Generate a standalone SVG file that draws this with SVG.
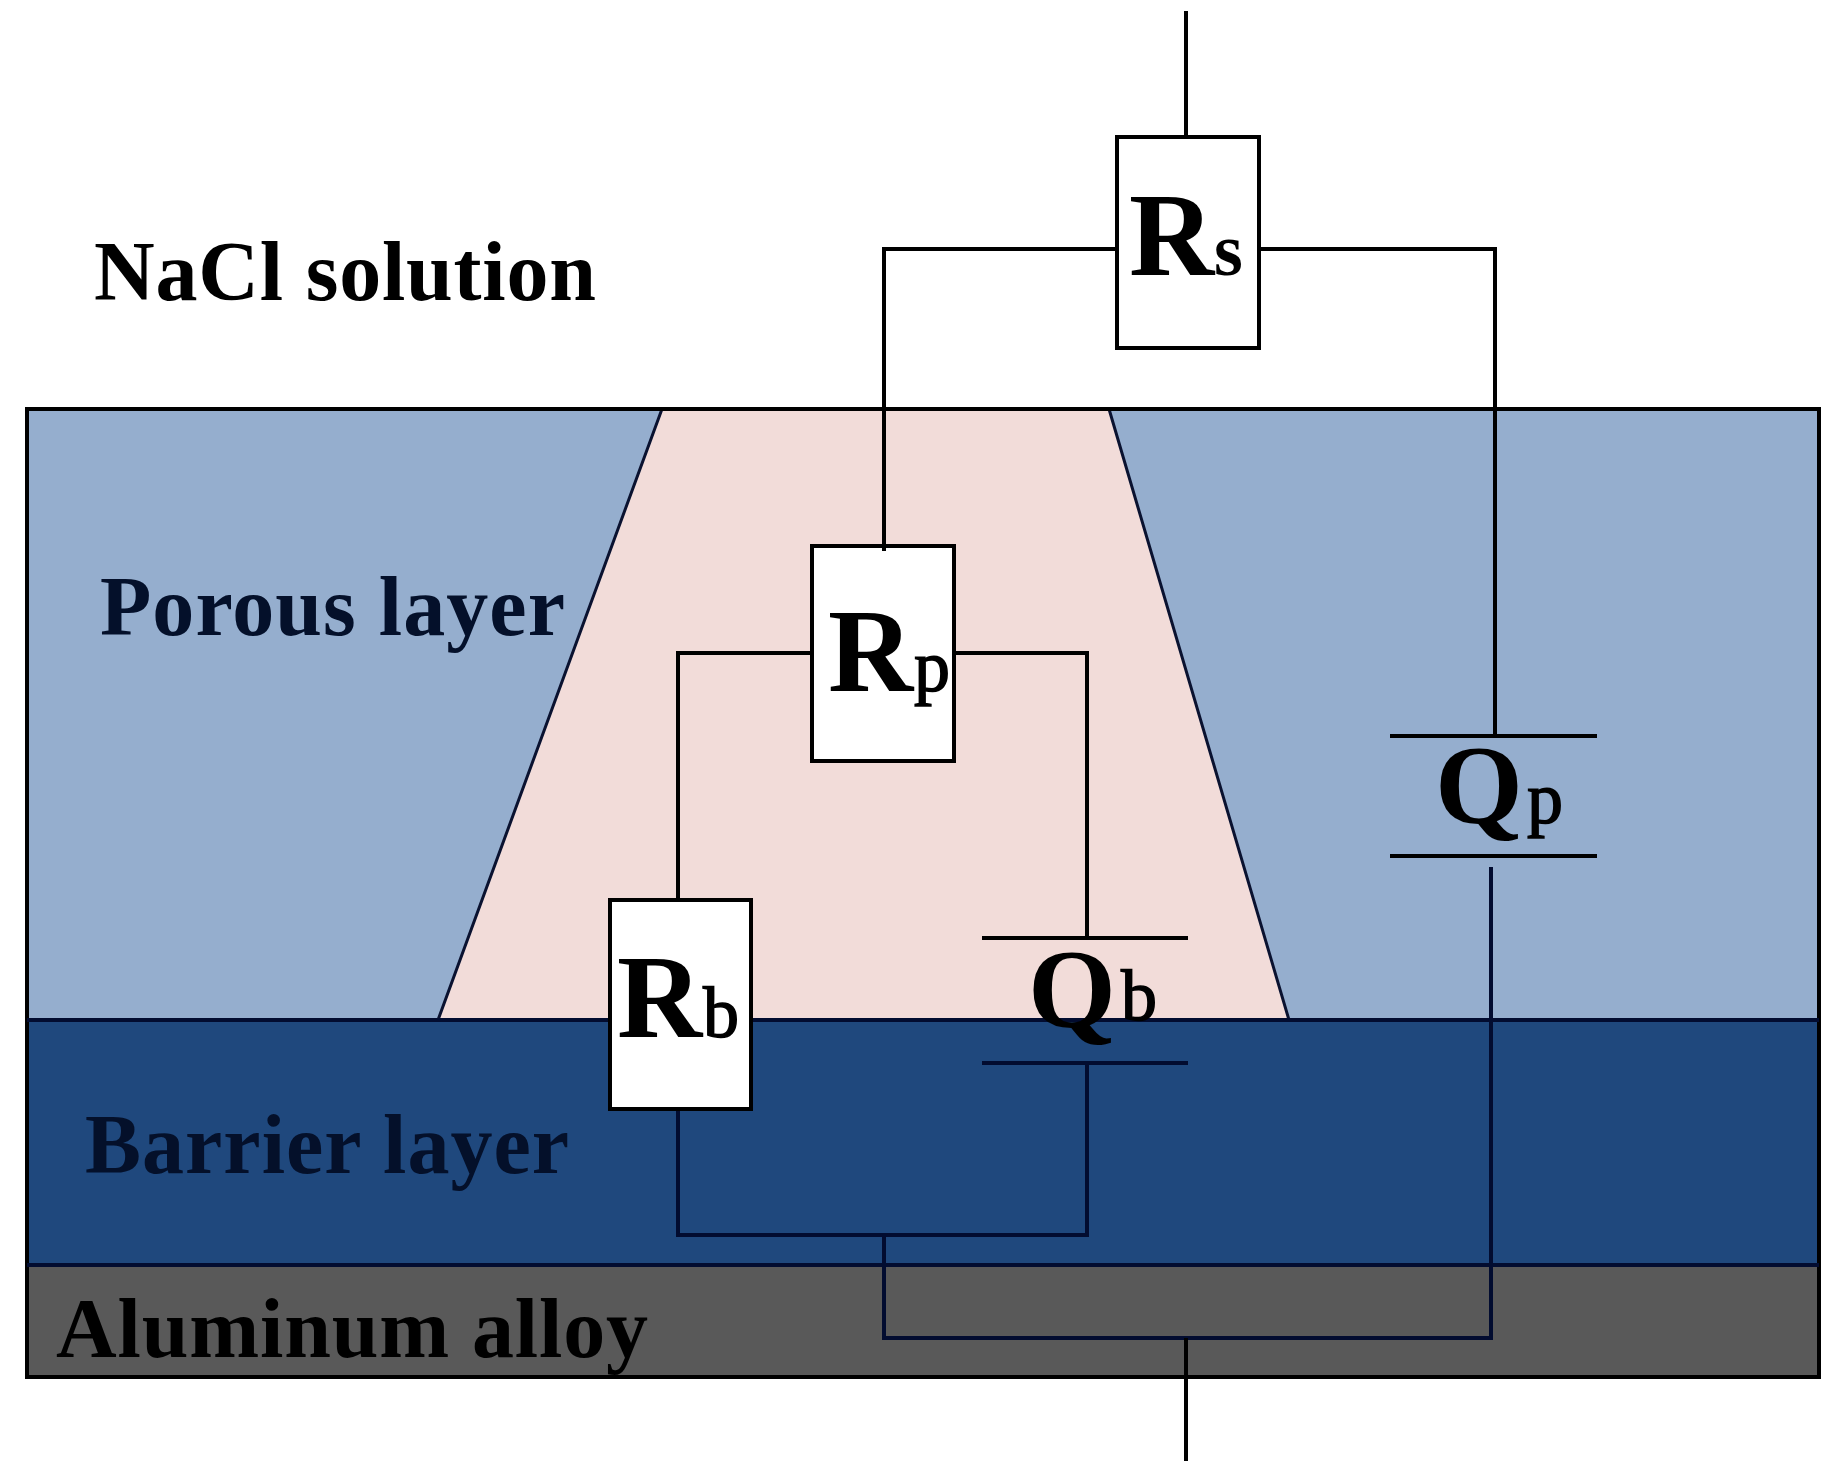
<svg xmlns="http://www.w3.org/2000/svg" width="1844" height="1481" viewBox="0 0 1844 1481">
<style>
text{font-family:"Liberation Serif","Times New Roman",serif;font-weight:bold;fill:#000}
.lab{font-size:84px}
.navy{fill:#04102a}
.main{font-size:118px}
.q{font-size:113px}
.sub{font-size:72px;font-weight:normal;stroke:#000;stroke-width:1.5}
.subs{font-size:74px}
.box{fill:#fff;stroke:#000;stroke-width:4}
.w{fill:none;stroke:#000;stroke-width:4}
.n{fill:none;stroke:#020c30;stroke-width:4}
.edge{fill:none;stroke:#0a1230;stroke-width:3}
</style>
<rect width="1844" height="1481" fill="#fff"/>
<g id="layers">
<rect id="porous" x="27" y="409" width="1792" height="611" fill="#95AECE"/>
<polygon id="pore" points="662,409 438,1020 1289,1020 1109,409" fill="#F2DCD9"/>
<rect id="barrier" x="27" y="1020" width="1792" height="245" fill="#1F487D"/>
<rect id="alloy" x="27" y="1265" width="1792" height="112" fill="#595959"/>
<path class="edge" d="M662,409 L438,1020 M1109,409 L1289,1020"/>
<rect x="27" y="409" width="1792" height="968" fill="none" stroke="#000" stroke-width="4"/>
<path class="n" d="M27,1020H1819M27,1265H1819"/>
</g>
<g id="labels">
<text class="lab" x="94" y="300" textLength="502" lengthAdjust="spacing">NaCl solution</text>
<text class="lab navy" x="100" y="635" textLength="465" lengthAdjust="spacing">Porous layer</text>
<text class="lab navy" x="85" y="1173" textLength="484" lengthAdjust="spacing">Barrier layer</text>
<text class="lab" x="56" y="1357" textLength="592" lengthAdjust="spacing">Aluminum alloy</text>
</g>
<g id="connectors">
<path class="w" d="M1186,11V136"/>
<path class="w" d="M1116,249H884V551"/>
<path class="w" d="M1259,249H1495V736"/>
<path class="w" d="M812,653H678V899"/>
<path class="w" d="M954,653H1087V938"/>
<path class="n" d="M678,1110V1235H1087V1063"/>
<path class="n" d="M884,1235V1338H1491V867"/>
<path class="w" d="M1186,1338V1461"/>
</g>
<g id="Rs">
<rect class="box" x="1117" y="137" width="142" height="211"/>
<text class="main" x="1129" y="275">R</text><text class="subs" x="1214" y="275">s</text>
</g>
<g id="Rp">
<rect class="box" x="812" y="546" width="142" height="215"/>
<path class="w" d="M884,546V551"/>
<text class="main" x="828" y="691">R</text><text class="sub" x="914" y="691">p</text>
</g>
<g id="Rb">
<rect class="box" x="610" y="900" width="141" height="209"/>
<text class="main" x="617" y="1037">R</text><text class="sub" x="703" y="1037">b</text>
</g>
<g id="Qb">
<path class="w" d="M982,938H1188"/>
<path class="n" d="M982,1063H1188"/>
<text class="q" x="1028" y="1027">Q</text><text class="sub" x="1121" y="1020">b</text>
</g>
<g id="Qp">
<path class="w" d="M1390,736H1597M1390,856H1597"/>
<text class="q" x="1435" y="823">Q</text><text class="sub" x="1527" y="823">p</text>
</g>
</svg>
